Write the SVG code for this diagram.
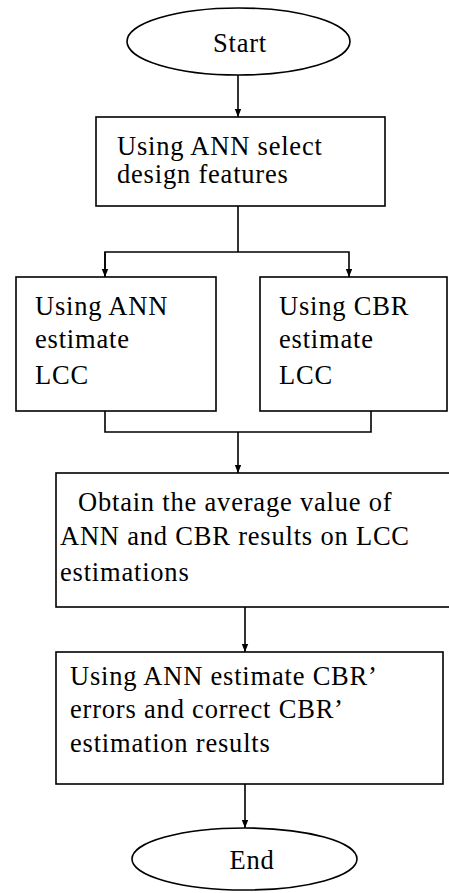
<svg xmlns="http://www.w3.org/2000/svg" width="449" height="893" viewBox="0 0 449 893">
<style>
.box{fill:#fff;stroke:#000;stroke-width:1.6}
.ln{fill:none;stroke:#000;stroke-width:1.6}
.t{font-family:"Liberation Serif","Times New Roman",serif;font-size:26.5px;letter-spacing:0.8px;fill:#000}
.c{text-anchor:middle}
</style>
<defs>
<marker id="ah" viewBox="0 0 10 10" refX="10" refY="5" markerWidth="8" markerHeight="8" markerUnits="userSpaceOnUse" orient="auto">
<path d="M0,1 L10,5 L0,9 Z" fill="#000"/>
</marker>
</defs>
<g id="connectors">
<line class="ln" x1="238" y1="75" x2="238" y2="117" marker-end="url(#ah)"/>
<polyline class="ln" points="238,206 238,252"/>
<polyline class="ln" points="105,277 105,252 349,252 349,277" marker-end="url(#ah)"/>
<line class="ln" x1="105" y1="252" x2="105" y2="277" marker-end="url(#ah)"/>
<polyline class="ln" points="105,411 105,432 371,432 371,411"/>
<line class="ln" x1="238" y1="432" x2="238" y2="473" marker-end="url(#ah)"/>
<line class="ln" x1="245" y1="607" x2="245" y2="652" marker-end="url(#ah)"/>
<line class="ln" x1="245" y1="784" x2="245" y2="828" marker-end="url(#ah)"/>
</g>
<g id="start">
<ellipse class="box" cx="238.5" cy="41.5" rx="111.5" ry="33.5"/>
<text class="t c" x="240" y="52">Start</text>
</g>
<g id="select">
<rect class="box" x="96" y="117" width="289" height="89"/>
<text class="t" x="117" y="155">Using ANN select</text>
<text class="t" x="117" y="183">design features</text>
</g>
<g id="ann">
<rect class="box" x="16" y="277" width="200" height="134"/>
<text class="t" x="35" y="315">Using ANN</text>
<text class="t" x="35" y="348">estimate</text>
<text class="t" x="35" y="384">LCC</text>
</g>
<g id="cbr">
<rect class="box" x="260" y="277" width="187" height="134"/>
<text class="t" x="279" y="315">Using CBR</text>
<text class="t" x="279" y="348">estimate</text>
<text class="t" x="279" y="384">LCC</text>
</g>
<g id="average">
<rect class="box" x="56" y="473" width="400" height="134"/>
<text class="t" x="78" y="511">Obtain the average value of</text>
<text class="t" x="60" y="545">ANN and CBR results on LCC</text>
<text class="t" x="60" y="581">estimations</text>
</g>
<g id="correct">
<rect class="box" x="56" y="652" width="387" height="132"/>
<text class="t" x="70" y="685">Using ANN estimate CBR’</text>
<text class="t" x="70" y="718">errors and correct CBR’</text>
<text class="t" x="70" y="752">estimation results</text>
</g>
<g id="end">
<ellipse class="box" cx="244.5" cy="859" rx="112.5" ry="31"/>
<text class="t c" x="252" y="869">End</text>
</g>
</svg>
